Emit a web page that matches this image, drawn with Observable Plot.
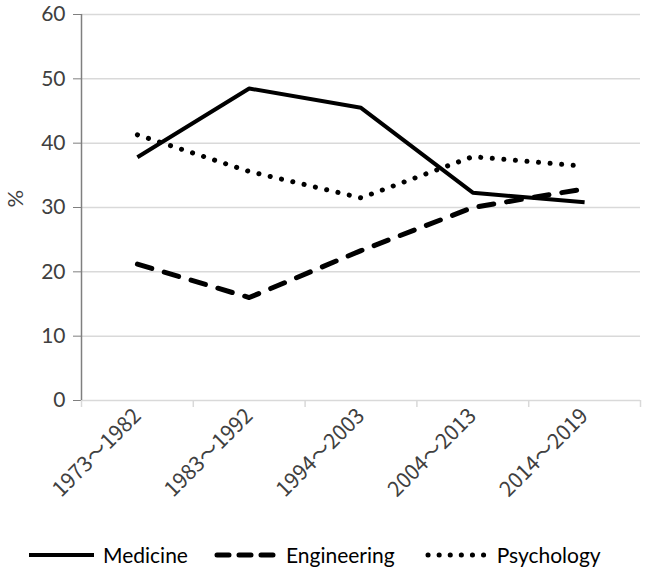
<!DOCTYPE html>
<html><head><meta charset="utf-8">
<script src="https://cdn.jsdelivr.net/npm/d3@7"></script>
<script src="https://cdn.jsdelivr.net/npm/@observablehq/plot@0.6"></script>
<style>
body{margin:0;background:#fff;font-family:Lato,"Noto Sans",sans-serif;}
#legend{display:flex;gap:0;margin-top:14px;font-size:21px;color:#000;align-items:center;}
#legend span{display:inline-flex;align-items:center;}
</style></head>
<body><div id="chart"></div><div id="legend"></div>
<script>
const periods = ["1973～1982","1983～1992","1994～2003","2004～2013","2014～2019"];
const medicine = [37.8, 48.5, 45.5, 32.3, 30.8];
const engineering = [21.2, 16.0, 23.3, 30.0, 32.9];
const psychology = [41.3, 35.6, 31.5, 37.9, 36.4];
const seriesNames = ["Medicine","Engineering","Psychology"];
const yTicks = [0,10,20,30,40,50,60];

const styles = {
  Medicine: {dash: null, cap: "butt", w: 4},
  Engineering: {dash: "15,13", cap: "round", w: 5},
  Psychology: {dash: "0.1,11.5", cap: "round", w: 5}
};
const values = {Medicine: medicine, Engineering: engineering, Psychology: psychology};
const data = seriesNames.flatMap(s => periods.map((p, i) => ({series: s, idx: i + 0.5, value: values[s][i]})));

const lineMarks = seriesNames.map(s => Plot.lineY(data.filter(d => d.series === s), {
  x: "idx", y: "value", stroke: "#000", strokeWidth: styles[s].w,
  strokeDasharray: styles[s].dash, strokeLinecap: styles[s].cap, strokeLinejoin: "round"
}));

const chart = Plot.plot({
  width: 645, height: 528,
  marginTop: 14, marginLeft: 81, marginRight: 5, marginBottom: 128,
  style: {fontFamily: "Lato, 'Noto Sans CJK JP', sans-serif", fontSize: "21px", color: "#404040"},
  x: {type: "linear", domain: [0, periods.length], axis: null},
  y: {domain: [0, 60], axis: null},
  marks: [
    Plot.gridY(yTicks, {stroke: "#d9d9d9", strokeOpacity: 1, strokeWidth: 1.5}),
    Plot.axisY(yTicks, {tickSize: 8, tickPadding: 8, stroke: "#7f7f7f", fill: "#404040", label: null, fontSize: 21}),
    Plot.ruleX([0], {stroke: "#7f7f7f", strokeWidth: 1.5}),
    Plot.axisX(d3.range(periods.length + 1), {tickSize: 7, tickFormat: () => "", stroke: "#d9d9d9", strokeWidth: 1.5, label: null}),
    Plot.axisX(periods.map((p, i) => i + 0.5), {tickSize: 0, tickPadding: 12, tickRotate: -45, textAnchor: "end",
      tickFormat: v => periods[Math.floor(v)], fill: "#404040", fontSize: 21, label: null,
      fontFamily: "'Noto Sans CJK JP', Lato, sans-serif"}),
    Plot.text(["%"], {frameAnchor: "left", dx: -66, rotate: -90, fontSize: 22, fill: "#404040"}),
    ...lineMarks
  ]
});
document.getElementById("chart").appendChild(chart);

const legend = document.getElementById("legend");
const legendSpec = [
  {name: "Medicine", w: 68, ml: 29, dash: null},
  {name: "Engineering", w: 66, ml: 26, dash: "12,10"},
  {name: "Psychology", w: 66, ml: 30, dash: "0.1,11"}
];
legendSpec.forEach(l => {
  const st = styles[l.name];
  const span = document.createElement("span");
  span.style.marginLeft = l.ml + "px";
  span.innerHTML = `<svg width="${l.w}" height="12"><line x1="${st.cap === 'round' ? 3 : 0}" y1="6" x2="${l.w - 3}" y2="6" stroke="#000" stroke-width="${st.w}" ${l.dash ? `stroke-dasharray="${l.dash}"` : ""} stroke-linecap="${st.cap}"/></svg><span style="margin-left:6px">${l.name}</span>`;
  legend.appendChild(span);
});
</script></body></html>
